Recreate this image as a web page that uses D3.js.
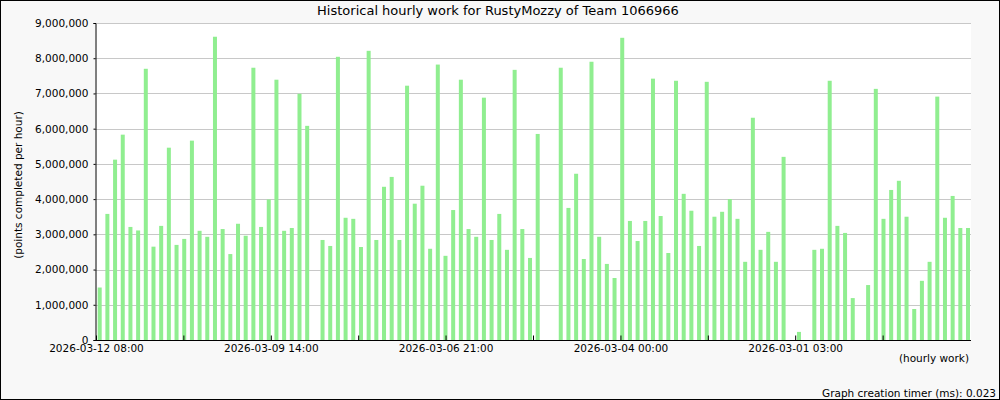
<!DOCTYPE html>
<html><head><meta charset="utf-8">
<script src="https://cdn.jsdelivr.net/npm/d3@7"></script>
<style>
html,body{margin:0;padding:0;background:#f8f8f8;}
svg{display:block;font-family:"DejaVu Sans",sans-serif;}
</style></head><body>
<svg id="chart" width="1000" height="400"></svg>
<script>
// hourly work values (points), null = no bar
const values = [
 1490000,3580000,5120000,5830000,3210000,3110000,7700000,2650000,3240000,5460000,
 2700000,2870000,5660000,3100000,2930000,8610000,3150000,2440000,3300000,2960000,
 7730000,3210000,3990000,7390000,3100000,3180000,6990000,6080000,null,2840000,
 2670000,8040000,3470000,3440000,2640000,8210000,2840000,4350000,4630000,2840000,
 7220000,3870000,4380000,2590000,7820000,2390000,3690000,7390000,3150000,2930000,
 6880000,2840000,3580000,2560000,7670000,3150000,2330000,5850000,null,null,
 7730000,3750000,4720000,2300000,7900000,2930000,2160000,1760000,8580000,3380000,
 2810000,3380000,7420000,3520000,2470000,7360000,4150000,3670000,2670000,7330000,
 3500000,3640000,4000000,3440000,2220000,6310000,2560000,3070000,2220000,5200000,
 null,230000,null,2560000,2590000,7360000,3240000,3040000,1190000,null,
 1560000,7130000,3440000,4260000,4520000,3500000,880000,1680000,2220000,6910000,
 3470000,4090000,3180000,3180000
];
const slots = values.map((v,i)=>i);
const yTicks = [0,1000000,2000000,3000000,4000000,5000000,6000000,7000000,8000000,9000000];
const xTickSlots = [0.13,11.5,22.88,34.25,45.62,57.0,68.38,79.75,91.12,102.5];
const xTickLabels = ["2026-03-12 08:00","","2026-03-09 14:00","","2026-03-06 21:00","","2026-03-04 00:00","","2026-03-01 03:00",""];
const title = "Historical hourly work for RustyMozzy of Team 1066966";

const svg = d3.select("#chart");
const L=95, R=971, T=23, B=340;

svg.append("rect").attr("x",0.5).attr("y",0.5).attr("width",999).attr("height",399)
  .attr("fill","#f8f8f8").attr("stroke","#000");
svg.append("rect").attr("x",L).attr("y",T).attr("width",R-L).attr("height",B-T).attr("fill","#fff");

const x = d3.scaleLinear().domain([0, values.length]).range([L, R]);
const y = d3.scaleLinear().domain([0, 9000000]).range([B, T]);
const slotW = x(1)-x(0);

// grid
svg.append("g").selectAll("line").data(yTicks.filter(d=>d>0)).join("line")
  .attr("x1",L).attr("x2",R).attr("y1",d=>Math.round(y(d))+0.5).attr("y2",d=>Math.round(y(d))+0.5)
  .attr("stroke","#c8c8c8").attr("stroke-width",1);

// bars
svg.append("g").selectAll("rect").data(slots.filter(i=>values[i]!==null)).join("rect")
  .attr("x",i=>x(i)+2.7).attr("width",4)
  .attr("y",i=>y(values[i])).attr("height",i=>B-y(values[i]))
  .attr("fill","#90ee90");

// y axis
const yAxis = d3.axisLeft(y).tickValues(yTicks).tickSize(2).tickFormat(d3.format(",d"));
const gy = svg.append("g").attr("transform",`translate(${L+0.5},0)`).call(yAxis);
gy.select(".domain").attr("stroke","#000");
gy.selectAll(".tick text").attr("font-size","10.5px").attr("fill","#000").attr("x",-7).attr("font-family","DejaVu Sans");

// x axis
const xAxis = d3.axisBottom(x).tickValues(xTickSlots).tickSize(-5).tickFormat((d,i)=>xTickLabels[i]);
const gx = svg.append("g").attr("transform",`translate(0,${B+0.5})`).call(xAxis);
gx.select(".domain").attr("stroke","#000").attr("d",`M${L},0H${R}`);
gx.selectAll(".tick line").attr("stroke","#000");
gx.selectAll(".tick text").attr("font-size","10.5px").attr("fill","#000").attr("y",4).attr("font-family","DejaVu Sans");

// texts
svg.append("text").attr("x",498).attr("y",15).attr("text-anchor","middle")
  .attr("font-size","13px").attr("fill","#000").text(title);
svg.append("text").attr("transform","translate(22,185) rotate(-90)").attr("text-anchor","middle")
  .attr("font-size","10.5px").attr("fill","#000").text("(points completed per hour)");
svg.append("text").attr("x",969).attr("y",362).attr("text-anchor","end")
  .attr("font-size","10.5px").attr("fill","#000").text("(hourly work)");
svg.append("text").attr("x",996).attr("y",397).attr("text-anchor","end")
  .attr("font-size","10.5px").attr("fill","#000").text("Graph creation timer (ms): 0.023");
</script></body></html>
